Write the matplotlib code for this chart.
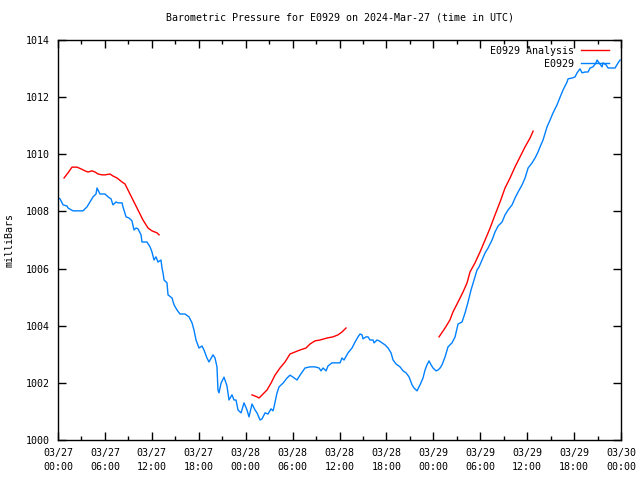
import numpy as np
import matplotlib
matplotlib.use("Agg")
import matplotlib.pyplot as plt
from matplotlib.ticker import MultipleLocator, FixedLocator

# Hours since 2024-03-27 00:00 UTC
obs_hours = [0.0, 0.26, 0.64, 1.15, 1.28, 1.92, 3.20, 3.71, 4.09, 4.48, 4.86, 4.99, 5.37, 6.01, 6.40,
             6.78, 7.03, 7.42, 7.67, 8.19, 8.31, 8.70, 9.08, 9.46, 9.72, 9.98, 10.23, 10.62, 10.74, 11.38,
             11.77, 12.02, 12.28, 12.53, 12.79, 13.17, 13.30, 13.43, 13.56, 13.94, 14.07, 14.58, 14.84,
             15.22, 15.60, 16.24, 16.75, 17.14, 17.39, 17.65, 18.03, 18.42, 18.67, 19.05, 19.31, 19.82,
             20.08, 20.33, 20.46, 20.59, 20.85, 21.23, 21.61, 21.87, 22.25, 22.51, 22.77, 23.02, 23.41,
             23.79, 24.17, 24.43, 24.81, 25.20, 25.45, 25.84, 26.09, 26.48, 26.86, 27.24, 27.50, 27.63,
             28.01, 28.27, 28.78, 29.29, 29.67, 30.06, 30.57, 30.95, 31.59, 32.23, 32.87, 33.38, 33.64,
             33.89, 34.28, 34.53, 35.04, 36.07, 36.32, 36.58, 37.09, 37.60, 37.99, 38.37, 38.63, 38.88,
             39.01, 39.39, 39.65, 39.90, 40.29, 40.42, 40.80, 41.06, 41.44, 41.82, 42.21, 42.59, 42.85,
             43.23, 43.74, 44.13, 44.51, 44.89, 45.28, 45.53, 45.92, 46.04, 46.30, 46.68, 46.94, 47.19,
             47.45, 47.71, 47.96, 48.35, 48.60, 48.86, 49.11, 49.50, 49.88, 50.39, 50.78, 51.16, 51.67,
             52.06, 52.44, 52.82, 53.21, 53.59, 53.85, 54.23, 54.62, 55.00, 55.51, 55.89, 56.28, 56.79,
             57.17, 57.56, 58.07, 58.45, 58.84, 59.35, 59.73, 60.12, 60.63, 61.01, 61.39, 61.65, 62.03,
             62.54, 62.93, 63.31, 63.82, 64.21, 64.59, 65.10, 65.23, 65.74, 66.13, 66.38, 66.76, 67.02,
             67.40, 67.79, 68.04, 68.42, 68.81, 68.94, 69.19, 69.58, 69.71, 70.09, 70.35, 70.86, 71.24,
             71.63, 71.88]
obs_mb = [1008.47, 1008.44, 1008.23, 1008.19, 1008.12, 1008.02, 1008.02, 1008.16, 1008.33, 1008.51,
          1008.61, 1008.82, 1008.61, 1008.61, 1008.51, 1008.44, 1008.23, 1008.33, 1008.30, 1008.30,
          1008.16, 1007.81, 1007.77, 1007.67, 1007.35, 1007.42, 1007.39, 1007.18, 1006.93, 1006.93,
          1006.76, 1006.58, 1006.30, 1006.41, 1006.23, 1006.30, 1006.02, 1005.85, 1005.60, 1005.50,
          1005.08, 1004.97, 1004.73, 1004.55, 1004.41, 1004.41, 1004.31, 1004.10, 1003.85, 1003.50,
          1003.22, 1003.29, 1003.15, 1002.87, 1002.73, 1002.98, 1002.87, 1002.56, 1001.75, 1001.65,
          1001.99, 1002.20, 1001.89, 1001.40, 1001.58, 1001.40, 1001.40, 1001.05, 1000.95, 1001.30,
          1001.05, 1000.81, 1001.26, 1001.05, 1000.95, 1000.70, 1000.74, 1000.95, 1000.91, 1001.09,
          1001.02, 1001.16, 1001.65, 1001.86, 1001.99, 1002.17, 1002.27, 1002.20, 1002.10, 1002.27,
          1002.52, 1002.56, 1002.56, 1002.52, 1002.42, 1002.52, 1002.42, 1002.59, 1002.70, 1002.70,
          1002.87, 1002.80, 1003.05, 1003.22, 1003.43, 1003.61, 1003.71, 1003.68, 1003.54, 1003.61,
          1003.61, 1003.50, 1003.50, 1003.40, 1003.50, 1003.47, 1003.40, 1003.33, 1003.22, 1003.05,
          1002.80, 1002.66, 1002.56, 1002.42, 1002.35, 1002.21, 1001.93, 1001.82, 1001.72, 1001.79,
          1001.93, 1002.17, 1002.45, 1002.63, 1002.77, 1002.63, 1002.52, 1002.42, 1002.45, 1002.52,
          1002.63, 1002.91, 1003.26, 1003.40, 1003.61, 1004.06, 1004.13, 1004.45, 1004.83, 1005.25,
          1005.60, 1005.95, 1006.06, 1006.30, 1006.55, 1006.72, 1007.00, 1007.28, 1007.49, 1007.63,
          1007.88, 1008.05, 1008.23, 1008.47, 1008.68, 1008.93, 1009.17, 1009.52, 1009.70, 1009.87,
          1010.08, 1010.26, 1010.50, 1010.96, 1011.20, 1011.45, 1011.73, 1012.00, 1012.25, 1012.53,
          1012.64, 1012.67, 1012.71, 1012.85, 1012.99, 1012.85, 1012.88, 1012.88, 1013.02, 1013.06,
          1013.20, 1013.30, 1013.20, 1013.06, 1013.20, 1013.13, 1013.02, 1013.02, 1013.02, 1013.20,
          1013.30]

# Analysis series (NaN separates the three runs)
ana_hours = [0.77, 1.28, 1.79, 2.43, 2.94, 3.45, 3.84, 4.35, 4.73, 5.12, 5.63, 6.01, 6.65, 7.03, 7.55,
             8.19, 8.57, 8.95, 9.59, 10.23, 10.87, 11.51, 12.02, 12.66, 12.92,
             18.0,
             24.81, 25.45, 25.71, 26.22, 26.73, 27.24, 27.75, 28.39, 29.03, 29.67, 30.31, 30.95, 31.72,
             32.23, 32.87, 33.51, 34.41, 35.17, 35.81, 36.32, 36.83,
             42.0,
             48.73, 49.50, 50.12, 50.51, 51.16, 51.80, 52.31, 52.69, 53.33, 53.97, 54.62, 55.26, 55.89,
             56.53, 57.17, 57.81, 58.45, 59.09, 59.73, 60.37, 60.76]
ana_mb = [1009.17, 1009.35, 1009.55, 1009.55, 1009.49, 1009.42, 1009.38, 1009.42, 1009.38, 1009.31,
          1009.28, 1009.28, 1009.31, 1009.24, 1009.17, 1009.03, 1008.96, 1008.75, 1008.40, 1008.05,
          1007.70, 1007.42, 1007.32, 1007.25, 1007.18,
          np.nan,
          1001.58, 1001.51, 1001.47, 1001.61, 1001.75, 1001.99, 1002.27, 1002.52, 1002.73, 1003.01,
          1003.08, 1003.15, 1003.22, 1003.36, 1003.47, 1003.50, 1003.57, 1003.61, 1003.68, 1003.78,
          1003.92,
          np.nan,
          1003.61, 1003.92, 1004.20, 1004.48, 1004.83, 1005.18, 1005.50, 1005.88, 1006.20, 1006.58,
          1007.00, 1007.42, 1007.88, 1008.33, 1008.82, 1009.17, 1009.56, 1009.91, 1010.26, 1010.57,
          1010.81]

xtick_hours = list(range(0, 73, 6))
xtick_labels = ["03/27\n00:00", "03/27\n06:00", "03/27\n12:00", "03/27\n18:00",
                "03/28\n00:00", "03/28\n06:00", "03/28\n12:00", "03/28\n18:00",
                "03/29\n00:00", "03/29\n06:00", "03/29\n12:00", "03/29\n18:00",
                "03/30\n00:00"]
ytick_vals = [1000, 1002, 1004, 1006, 1008, 1010, 1012, 1014]

FONT = "DejaVu Sans Mono"
FS = 7.2
plt.rcParams['font.family'] = FONT

fig = plt.figure(figsize=(6.4, 4.8), dpi=100)
ax = fig.add_axes([58/640, 40/480, 563/640, 400/480])

ax.plot(ana_hours, ana_mb, color="#ff0000", lw=1.0, label="E0929 Analysis")
ax.plot(obs_hours, obs_mb, color="#0080ff", lw=1.0, label="E0929")

ax.set_xlim(0, 72)
ax.set_ylim(1000, 1014)
ax.xaxis.set_major_locator(FixedLocator(xtick_hours))
ax.set_xticklabels(xtick_labels, fontsize=FS, family=FONT, linespacing=1.5)
ax.xaxis.set_minor_locator(MultipleLocator(3))
ax.yaxis.set_major_locator(FixedLocator(ytick_vals))
ax.set_yticklabels([str(v) for v in ytick_vals], fontsize=FS, family=FONT)

ax.tick_params(which="both", direction="in", top=True, right=True, width=1.0, color="black")
ax.tick_params(which="major", length=6, pad=6)
ax.tick_params(which="minor", length=3)
for s in ax.spines.values():
    s.set_linewidth(1.0)

ax.set_title("Barometric Pressure for E0929 on 2024-Mar-27 (time in UTC)",
             fontsize=FS, family=FONT, pad=14)
ax.set_ylabel("milliBars", fontsize=FS, family=FONT, labelpad=8)

leg = ax.legend(loc="upper right", bbox_to_anchor=(0.989, 1.0), frameon=False, markerfirst=False,
                handlelength=2.8, handletextpad=0.7, borderaxespad=0.2, labelspacing=0.3,
                prop={"family": FONT, "size": FS})

fig.savefig("out.png", dpi=100)
